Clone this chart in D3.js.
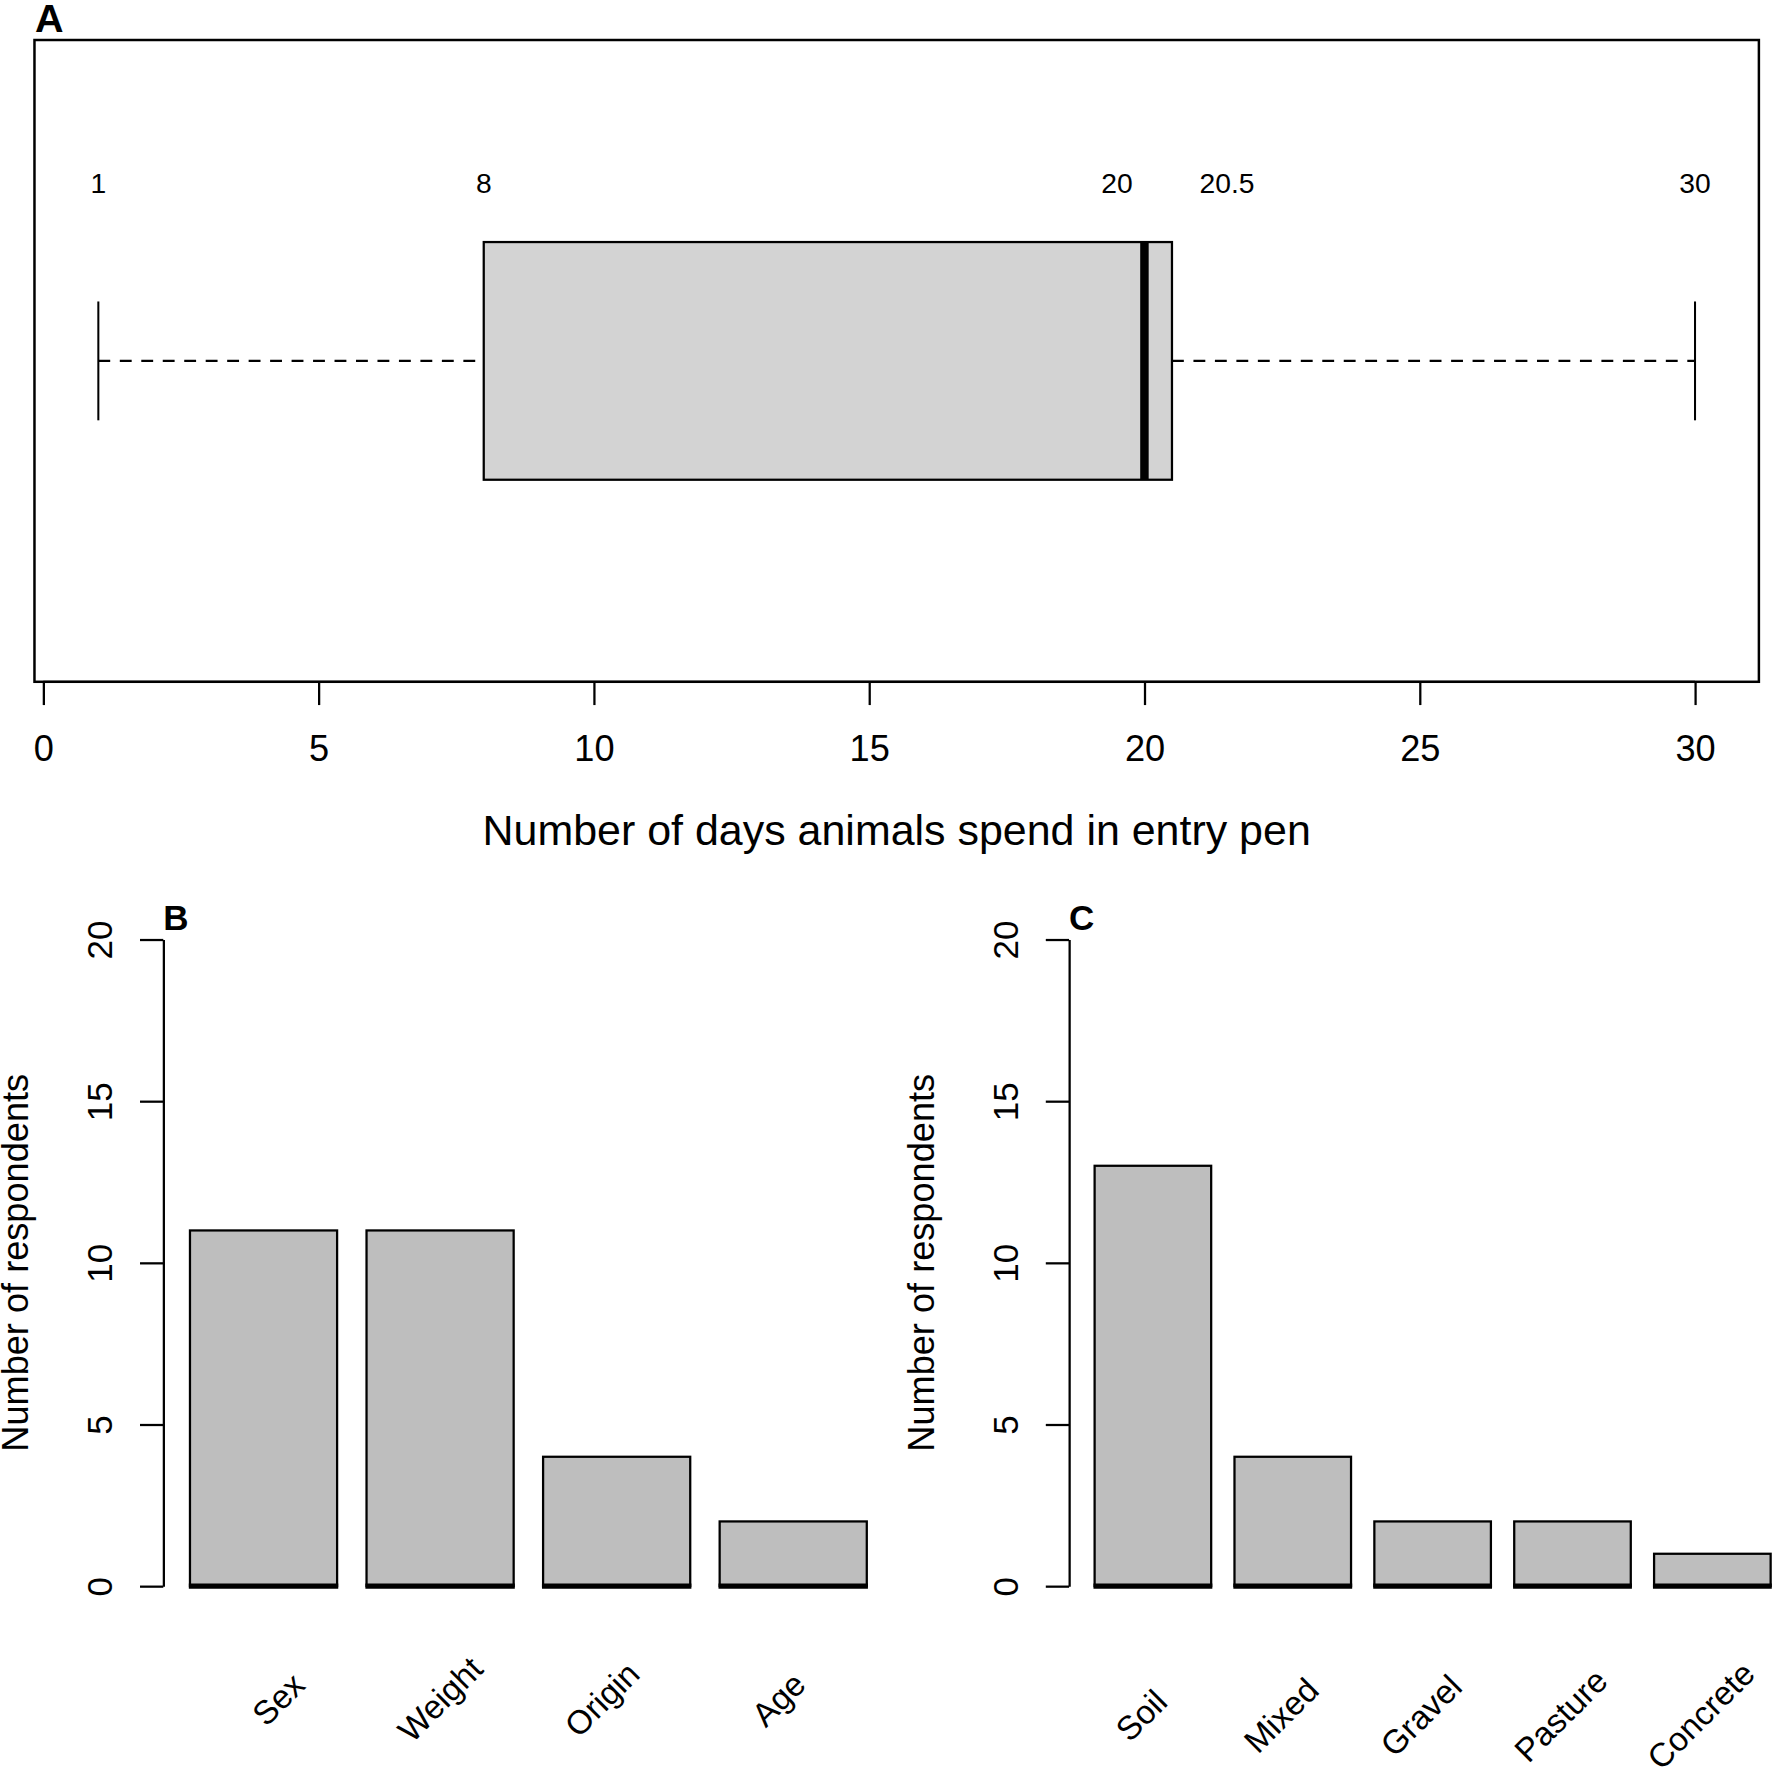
<!DOCTYPE html>
<html>
<head>
<meta charset="utf-8">
<script src="https://cdn.jsdelivr.net/npm/d3@7"></script>
<style>
  body { margin: 0; background: #fff; }
  svg text { font-family: "Liberation Sans", Arial, Helvetica, sans-serif; fill: #000; }
</style>
</head>
<body>
<div id="chart"></div>
<script>
// Panel A: days spent in entry pen (five number summary)
var boxStats = [1, 8, 20, 20.5, 30];          // min, q1, median, q3, max
var boxLabels = ["1", "8", "20", "20.5", "30"];
var boxLabelAt = [1, 8, 19.5, 21.5, 30];      // where the numbers sit above the box
var daysTicks = [0, 5, 10, 15, 20, 25, 30];

// Panel B: criteria used to group animals
var criteria = ["Sex", "Weight", "Origin", "Age"];
var criteriaCounts = [11, 11, 4, 2];
var criteriaLabelAt = [0.8, 1.9, 3.0, 4.2];

// Panel C: floor type of entry pen
var floors = ["Soil", "Mixed", "Gravel", "Pasture", "Concrete"];
var floorCounts = [13, 4, 2, 2, 1];
var floorLabelAt = [0.6, 1.8, 3.0, 4.2, 5.4];

var countTicks = [0, 5, 10, 15, 20];

// everything is laid out on a 1568 grid and scaled up to the page
var svg = d3.select("#chart").append("svg")
  .attr("width", 1772)
  .attr("height", 1772)
  .attr("viewBox", "0 0 1568 1568");

svg.append("rect").attr("width", 1568).attr("height", 1568).attr("fill", "#fff");

/* ---------- A: horizontal boxplot ---------- */
var xA = d3.scaleLinear().domain([-0.16, 31.16]).range([30.5, 1556.4]);
var yA = d3.scaleLinear().domain([0.46, 1.54]).range([603.3, 35.4]);

var gA = svg.append("g");

gA.append("rect")
  .attr("x", xA(boxStats[1]))
  .attr("y", yA(1.2))
  .attr("width", xA(boxStats[3]) - xA(boxStats[1]))
  .attr("height", yA(0.8) - yA(1.2))
  .attr("fill", "#d3d3d3")
  .attr("stroke", "#000")
  .attr("stroke-width", 2);

gA.append("line")
  .attr("x1", xA(boxStats[2])).attr("x2", xA(boxStats[2]))
  .attr("y1", yA(1.2)).attr("y2", yA(0.8))
  .attr("stroke", "#000").attr("stroke-width", 7.5);

// whiskers
[[boxStats[0], boxStats[1]], [boxStats[3], boxStats[4]]].forEach(function(w){
  gA.append("line")
    .attr("x1", xA(w[0])).attr("x2", xA(w[1]))
    .attr("y1", yA(1)).attr("y2", yA(1))
    .attr("stroke", "#000").attr("stroke-width", 2)
    .attr("stroke-dasharray", "10.5,8.5");
});
[boxStats[0], boxStats[4]].forEach(function(v){
  gA.append("line")
    .attr("x1", xA(v)).attr("x2", xA(v))
    .attr("y1", yA(1.1)).attr("y2", yA(0.9))
    .attr("stroke", "#000").attr("stroke-width", 1.8);
});

gA.selectAll("text.boxlab")
  .data(boxLabels)
  .enter()
  .append("text")
    .attr("class", "boxlab")
    .attr("x", function(d, i){ return xA(boxLabelAt[i]); })
    .attr("y", yA(1.3))
    .attr("dy", "0.35em")
    .attr("text-anchor", "middle")
    .style("font-size", "25px")
    .text(function(d){ return d; });

var axA = gA.append("g")
  .attr("transform", "translate(0," + yA.range()[0] + ")")
  .call(d3.axisBottom(xA).tickValues(daysTicks).tickSize(20.6).tickSizeOuter(0).tickPadding(27));
axA.select(".domain").remove();
axA.append("line")
  .attr("x1", xA(0)).attr("x2", xA(30))
  .attr("stroke", "#000").attr("stroke-width", 2);
axA.selectAll(".tick line").attr("stroke-width", 2);
axA.selectAll(".tick text").style("font-size", "32px").attr("fill", "#000");

// frame
gA.append("rect")
  .attr("x", xA.range()[0])
  .attr("y", yA.range()[1])
  .attr("width", xA.range()[1] - xA.range()[0])
  .attr("height", yA.range()[0] - yA.range()[1])
  .attr("fill", "none")
  .attr("stroke", "#000")
  .attr("stroke-width", 2.2);

gA.append("text")
  .attr("x", (xA.range()[0] + xA.range()[1]) / 2)
  .attr("y", 748)
  .attr("text-anchor", "middle")
  .style("font-size", "38px")
  .text("Number of days animals spend in entry pen");

gA.append("text")
  .attr("x", 31).attr("y", 28)
  .style("font-size", "35px").style("font-weight", "bold")
  .text("A");

/* ---------- B and C: bar charts ---------- */
function drawBars(cats, vals, labelAt, labelY, axisX, left, right, letter){
  var n = cats.length;
  var y = d3.scaleLinear().domain([0, 20]).range([1403.5, 831.3]);
  // barplot units: bars of width 1 with 0.2 space, like base R
  var x = d3.scaleLinear().domain([0.2, n * 1.2]).range([left, right]);

  var g = svg.append("g");

  g.selectAll("rect.bar")
    .data(vals)
    .enter()
    .append("rect")
      .attr("class", "bar")
      .attr("x", function(d, i){ return x(0.2 + 1.2 * i); })
      .attr("y", function(d){ return y(d); })
      .attr("width", function(d, i){ return x(1.2 + 1.2 * i) - x(0.2 + 1.2 * i); })
      .attr("height", function(d){ return y(0) - y(d); })
      .attr("fill", "#bebebe")
      .attr("stroke", "#000")
      .attr("stroke-width", 2);

  // heavier base under each bar
  g.selectAll("line.base")
    .data(vals)
    .enter()
    .append("line")
      .attr("class", "base")
      .attr("x1", function(d, i){ return x(0.2 + 1.2 * i) - 1; })
      .attr("x2", function(d, i){ return x(1.2 + 1.2 * i) + 1; })
      .attr("y1", y(0)).attr("y2", y(0))
      .attr("stroke", "#000")
      .attr("stroke-width", 4.5);

  var ax = g.append("g")
    .attr("transform", "translate(" + axisX + ",0)")
    .call(d3.axisLeft(y).tickValues(countTicks).tickSize(20.6).tickSizeOuter(0));
  ax.select(".domain").attr("stroke-width", 2);
  ax.selectAll(".tick line").attr("stroke-width", 2);
  ax.selectAll(".tick text")
    .attr("x", null).attr("dy", null)
    .attr("text-anchor", "middle")
    .attr("transform", "translate(-45.5,0) rotate(-90)")
    .attr("fill", "#000")
    .style("font-size", "31px");

  g.append("text")
    .attr("transform", "translate(" + (axisX - 119.5) + "," + y(10) + ") rotate(-90)")
    .attr("text-anchor", "middle")
    .style("font-size", "32px")
    .text("Number of respondents");

  g.selectAll("text.cat")
    .data(cats)
    .enter()
    .append("text")
      .attr("class", "cat")
      .attr("transform", function(d, i){
        return "translate(" + x(labelAt[i]) + "," + y(labelY) + ") rotate(-45)";
      })
      .attr("dy", "0.35em")
      .attr("text-anchor", "middle")
      .style("font-size", "29.5px")
      .text(function(d){ return d; });

  g.append("text")
    .attr("x", axisX).attr("y", 823)
    .style("font-size", "31px").style("font-weight", "bold")
    .text(letter);
}

drawBars(criteria, criteriaCounts, criteriaLabelAt, -3.5, 144.5, 168.1, 767, "B");
drawBars(floors, floorCounts, floorLabelAt, -4, 946, 968.6, 1566.8, "C");
</script>
</body>
</html>
